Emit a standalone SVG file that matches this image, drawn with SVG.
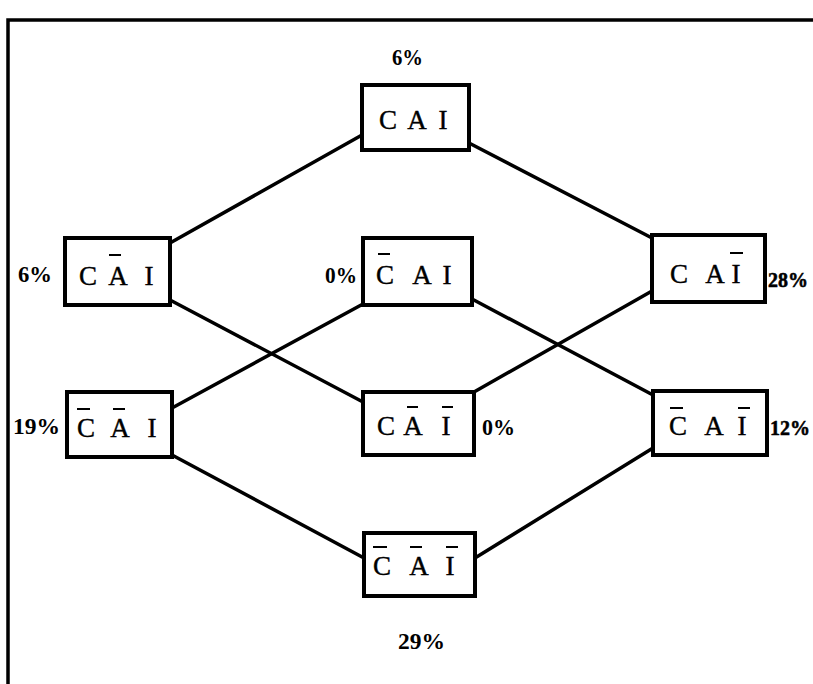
<svg xmlns="http://www.w3.org/2000/svg" width="813" height="684" viewBox="0 0 813 684">
<style>
.box{fill:#fff;stroke:#000;stroke-width:4}
.ln{stroke:#000;stroke-width:3.5;fill:none;stroke-linecap:round}
.bar{stroke:#000;stroke-width:2}
.lt{font-family:"Liberation Serif",serif;font-size:27px;fill:#000;stroke:#000;stroke-width:0.4;text-anchor:middle}
.pc{font-family:"Liberation Serif",serif;font-size:24px;font-weight:bold;fill:#000}
.pr{font-family:"Liberation Serif",serif;font-size:20px;font-weight:bold;fill:#000;stroke:#000;stroke-width:0.5}
</style>
<rect width="813" height="684" fill="#fff"/>
<path d="M8,690 L8,20 L820,20" fill="none" stroke="#000" stroke-width="3.5"/>
<g id="connectors">
<line class="ln" x1="362" y1="135" x2="170" y2="243"/>
<line class="ln" x1="469" y1="143" x2="652" y2="238"/>
<line class="ln" x1="170" y1="300" x2="363" y2="402"/>
<line class="ln" x1="363" y1="304" x2="172" y2="408"/>
<line class="ln" x1="472" y1="299" x2="653" y2="395"/>
<line class="ln" x1="474" y1="392" x2="652" y2="291"/>
<line class="ln" x1="172" y1="455" x2="364" y2="558"/>
<line class="ln" x1="475" y1="558" x2="653" y2="448"/>
</g>
<g id="n_CAI">
<rect class="box" x="362" y="85" width="107" height="65"/>
<text class="lt" y="129"><tspan x="388">C</tspan><tspan x="417">A</tspan><tspan x="443">I</tspan></text>
<text class="pc" x="392" y="65" textLength="31" lengthAdjust="spacingAndGlyphs">6%</text>
</g>
<g id="n_CnAI">
<rect class="box" x="65" y="238" width="105" height="67"/>
<text class="lt" y="285"><tspan x="88">C</tspan><tspan x="118">A</tspan><tspan x="149">I</tspan></text>
<line class="bar" x1="109" y1="255" x2="121" y2="255"/>
<text class="pc" x="18" y="282" textLength="34" lengthAdjust="spacingAndGlyphs">6%</text>
</g>
<g id="n_nCAI">
<rect class="box" x="363" y="238" width="109" height="67"/>
<text class="lt" y="284"><tspan x="385">C</tspan><tspan x="422">A</tspan><tspan x="447">I</tspan></text>
<line class="bar" x1="378" y1="254" x2="390" y2="254"/>
<text class="pc" x="325" y="283" textLength="32" lengthAdjust="spacingAndGlyphs">0%</text>
</g>
<g id="n_CAnI">
<rect class="box" x="652" y="235" width="113" height="67"/>
<text class="lt" y="283"><tspan x="679">C</tspan><tspan x="715">A</tspan><tspan x="736">I</tspan></text>
<line class="bar" x1="730" y1="253" x2="743" y2="253"/>
<text class="pr" x="768" y="287">28%</text>
</g>
<g id="n_nCnAI">
<rect class="box" x="67" y="392" width="105" height="65"/>
<text class="lt" y="437"><tspan x="86">C</tspan><tspan x="120">A</tspan><tspan x="152">I</tspan></text>
<line class="bar" x1="77" y1="409" x2="90" y2="409"/>
<line class="bar" x1="113" y1="409" x2="125" y2="409"/>
<text class="pc" x="13" y="434" textLength="47" lengthAdjust="spacingAndGlyphs">19%</text>
</g>
<g id="n_CnAnI">
<rect class="box" x="363" y="392" width="111" height="63"/>
<text class="lt" y="435"><tspan x="386">C</tspan><tspan x="413">A</tspan><tspan x="446">I</tspan></text>
<line class="bar" x1="407" y1="407" x2="418" y2="407"/>
<line class="bar" x1="442" y1="407" x2="453" y2="407"/>
<text class="pc" x="482" y="435" textLength="33" lengthAdjust="spacingAndGlyphs">0%</text>
</g>
<g id="n_nCAnI">
<rect class="box" x="653" y="391" width="114" height="64"/>
<text class="lt" y="435"><tspan x="678">C</tspan><tspan x="714">A</tspan><tspan x="742">I</tspan></text>
<line class="bar" x1="670" y1="408" x2="683" y2="408"/>
<line class="bar" x1="738" y1="408" x2="750" y2="408"/>
<text class="pr" x="770" y="435">12%</text>
</g>
<g id="n_nCnAnI">
<rect class="box" x="364" y="533" width="111" height="63"/>
<text class="lt" y="575"><tspan x="382">C</tspan><tspan x="419">A</tspan><tspan x="450">I</tspan></text>
<line class="bar" x1="373" y1="547" x2="387" y2="547"/>
<line class="bar" x1="410" y1="547" x2="422" y2="547"/>
<line class="bar" x1="446" y1="547" x2="458" y2="547"/>
<text class="pc" x="398" y="649" textLength="47" lengthAdjust="spacingAndGlyphs">29%</text>
</g>
</svg>
